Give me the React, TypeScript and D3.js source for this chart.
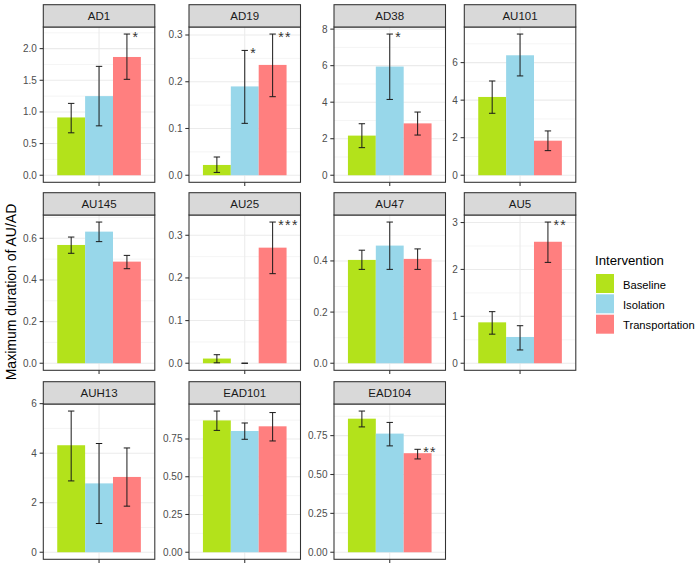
import React from "react";
import * as d3 from "d3";

const FACETS = ["AD1", "AD19", "AD38", "AU101", "AU145", "AU25", "AU47", "AU5", "AUH13", "EAD101", "EAD104"];
const GROUPS = ["Baseline", "Isolation", "Transportation"];
const COLORS = ["#B3E21B", "#98D7EA", "#FF7F7F"];

const baselineMean = [0.913, 0.022, 2.17, 4.17, 0.568, 0.011, 0.404, 0.872, 4.32, 0.873, 0.859];
const baselineLow = [0.67, 0.006, 1.51, 3.3, 0.528, 0.001, 0.367, 0.62, 2.88, 0.807, 0.806];
const baselineHigh = [1.135, 0.039, 2.82, 5.02, 0.606, 0.02, 0.442, 1.1, 5.7, 0.935, 0.908];

const isolationMean = [1.25, 0.19, 5.95, 6.39, 0.632, 0, 0.46, 0.56, 2.78, 0.803, 0.763];
const isolationLow = [0.78, 0.111, 4.15, 5.29, 0.584, 0, 0.367, 0.283, 1.16, 0.748, 0.684];
const isolationHigh = [1.72, 0.267, 7.73, 7.52, 0.678, 0, 0.552, 0.8, 4.39, 0.856, 0.835];

const transportMean = [1.868, 0.236, 2.84, 1.84, 0.488, 0.271, 0.408, 2.59, 3.04, 0.834, 0.637];
const transportLow = [1.515, 0.168, 2.2, 1.31, 0.454, 0.21, 0.367, 2.15, 1.86, 0.737, 0.6];
const transportHigh = [2.23, 0.302, 3.46, 2.36, 0.518, 0.331, 0.447, 3.01, 4.21, 0.925, 0.662];

const baselineStars = ["", "", "", "", "", "", "", "", "", "", ""];
const isolationStars = ["", "*", "*", "", "", "", "", "", "", "", ""];
const transportStars = ["*", "**", "", "", "", "***", "", "**", "", "", "**"];

const yTicks = [
  [0, 0.5, 1, 1.5, 2],
  [0, 0.1, 0.2, 0.3],
  [0, 2, 4, 6, 8],
  [0, 2, 4, 6],
  [0, 0.2, 0.4, 0.6],
  [0, 0.1, 0.2, 0.3],
  [0, 0.2, 0.4],
  [0, 1, 2, 3],
  [0, 2, 4, 6],
  [0, 0.25, 0.5, 0.75],
  [0, 0.25, 0.5, 0.75],
];
const yTickLabels = [
  ["0.0", "0.5", "1.0", "1.5", "2.0"],
  ["0.0", "0.1", "0.2", "0.3"],
  ["0", "2", "4", "6", "8"],
  ["0", "2", "4", "6"],
  ["0.0", "0.2", "0.4", "0.6"],
  ["0.0", "0.1", "0.2", "0.3"],
  ["0.0", "0.2", "0.4"],
  ["0", "1", "2", "3"],
  ["0", "2", "4", "6"],
  ["0.00", "0.25", "0.50", "0.75"],
  ["0.00", "0.25", "0.50", "0.75"],
];

const Y_TITLE = "Maximum duration of AU/AD";
const LEGEND_TITLE = "Intervention";

const FONT = "'Liberation Sans', Arial, sans-serif";
const COL_LEFT = [43.3, 189, 334, 464.3];
const PANEL_W = 111.5;
const STRIP_TOP = [4.7, 192.7, 381.7];
const STRIP_H = 22.3;
const PANEL_H = 155.3;

function Panel({ i }: { i: number }) {
  const col = i % 4;
  const row = Math.floor(i / 4);
  const x0 = COL_LEFT[col];
  const stripTop = STRIP_TOP[row];
  const top = stripTop + STRIP_H;
  const bottom = top + PANEL_H;

  const means = [baselineMean[i], isolationMean[i], transportMean[i]];
  const lows = [baselineLow[i], isolationLow[i], transportLow[i]];
  const highs = [baselineHigh[i], isolationHigh[i], transportHigh[i]];
  const stars = [baselineStars[i], isolationStars[i], transportStars[i]];

  const maxV = d3.max(highs.concat(means)) as number;
  const pad = maxV * 0.05;
  const y = d3.scaleLinear().domain([-pad, maxV + pad]).range([bottom, top]);
  const x = d3.scaleLinear().domain([0.4, 1.6]).range([x0, x0 + PANEL_W]);
  const band = d3.scaleBand<string>().domain(GROUPS).range([x(0.55), x(1.45)]).padding(0);

  const ticks = yTicks[i];
  const step = ticks[1] - ticks[0];
  const minors: number[] = [];
  for (let k = -1; k < ticks.length; k++) {
    const m = ticks[0] + step * k + step / 2;
    if (m >= -pad && m <= maxV + pad) minors.push(m);
  }
  const cx = x(1);

  return (
    <g>
      <rect x={x0} y={top} width={PANEL_W} height={PANEL_H} fill="#fff" />
      {minors.map((m, k) => (
        <line key={"mi" + k} x1={x0} x2={x0 + PANEL_W} y1={y(m)} y2={y(m)} stroke="#EBEBEB" strokeWidth={0.55} />
      ))}
      {ticks.map((t, k) => (
        <line key={"ma" + k} x1={x0} x2={x0 + PANEL_W} y1={y(t)} y2={y(t)} stroke="#EBEBEB" strokeWidth={1.07} />
      ))}
      <line x1={cx} x2={cx} y1={top} y2={bottom} stroke="#EBEBEB" strokeWidth={1.07} />
      {GROUPS.map((g, k) => {
        const bx = band(g) as number;
        const bw = band.bandwidth();
        return (
          <rect key={"b" + k} x={bx} width={bw} y={y(Math.max(0, means[k]))} height={Math.abs(y(0) - y(means[k]))} fill={COLORS[k]} />
        );
      })}
      {GROUPS.map((g, k) => {
        const c = (band(g) as number) + band.bandwidth() / 2;
        const hw = 3.2;
        return (
          <g key={"e" + k} stroke="#1a1a1a" strokeWidth={1}>
            <line x1={c} x2={c} y1={y(lows[k])} y2={y(highs[k])} />
            <line x1={c - hw} x2={c + hw} y1={y(lows[k])} y2={y(lows[k])} />
            <line x1={c - hw} x2={c + hw} y1={y(highs[k])} y2={y(highs[k])} />
          </g>
        );
      })}
      {GROUPS.map((g, k) =>
        stars[k] ? (
          <text
            key={"s" + k}
            x={(band(g) as number) + band.bandwidth() / 2 + 5.5}
            y={y(highs[k]) + 8}
            fontSize={14}
            letterSpacing={1.5}
            fill="#333"
            fontFamily={FONT}
          >
            {stars[k]}
          </text>
        ) : null
      )}
      <rect x={x0} y={top} width={PANEL_W} height={PANEL_H} fill="none" stroke="#333" strokeWidth={1.07} />
      <rect x={x0} y={stripTop} width={PANEL_W} height={STRIP_H} fill="#D9D9D9" stroke="#333" strokeWidth={1.07} />
      <text x={x0 + PANEL_W / 2} y={stripTop + STRIP_H / 2} textAnchor="middle" dominantBaseline="central" fontSize={11.5} fill="#1A1A1A" fontFamily={FONT}>
        {FACETS[i]}
      </text>
      {ticks.map((t, k) => (
        <g key={"t" + k}>
          <line x1={x0 - 3.7} x2={x0} y1={y(t)} y2={y(t)} stroke="#333" strokeWidth={1.07} />
          <text x={x0 - 6.5} y={y(t)} textAnchor="end" dominantBaseline="central" fontSize={10} fill="#4D4D4D" fontFamily={FONT}>
            {yTickLabels[i][k]}
          </text>
        </g>
      ))}
      <line x1={cx} x2={cx} y1={bottom} y2={bottom + 3.7} stroke="#333" strokeWidth={1.07} />
    </g>
  );
}

export default function App() {
  const keyY = [274, 294.3, 314.7];
  return (
    <svg width={700} height={565} style={{ position: "absolute", left: 0, top: 0, background: "#fff" }} fontFamily={FONT}>
      <rect width={700} height={565} fill="#fff" />
      {FACETS.map((_, i) => (
        <Panel key={i} i={i} />
      ))}
      <text transform="translate(11,292) rotate(-90)" textAnchor="middle" dominantBaseline="central" fontSize={14} fill="#000">
        {Y_TITLE}
      </text>
      <text x={595} y={265} fontSize={13.2} fill="#000">
        {LEGEND_TITLE}
      </text>
      {GROUPS.map((g, k) => (
        <g key={g}>
          <rect x={596} y={keyY[k]} width={18} height={19} fill={COLORS[k]} />
          <text x={623} y={keyY[k] + 10.5} dominantBaseline="central" fontSize={11.2} fill="#000">
            {g}
          </text>
        </g>
      ))}
    </svg>
  );
}
